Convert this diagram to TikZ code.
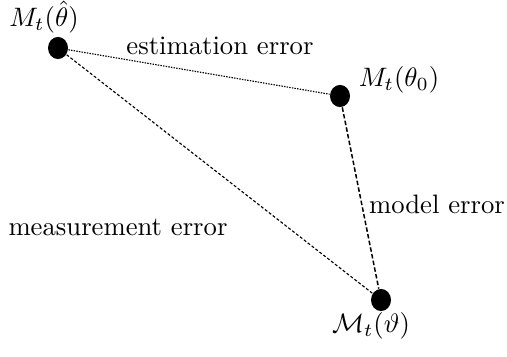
\documentclass[tikz,border=0pt]{standalone}
\usepackage{amsmath}
\usetikzlibrary{shapes.geometric}
\begin{document}
\begin{tikzpicture}[x=0.375pt,y=-0.375pt,
  dot/.style={ellipse,fill=black,minimum width=7.5pt,minimum height=8.3pt,inner sep=0pt},
  lbl/.style={inner sep=0pt},
  estline/.style={line width=0.42pt,dash pattern=on 0.55pt off 0.45pt},
  measline/.style={line width=0.42pt,dash pattern=on 1.1pt off 0.75pt},
  modline/.style={line width=0.56pt,dash pattern=on 1.7pt off 0.85pt}]
\useasboundingbox (0,0) rectangle (507,356);
\node[dot] (A) at (58,48) {};
\node[dot] (B) at (340,96) {};
\node[dot] (C) at (381,300) {};
\draw[estline] (A) -- (B);
\draw[measline] (A) -- (C);
\draw[modline] (B) -- (C);
\node[lbl] (la) at (44,17) {$M_t(\hat\theta)$};
\node[lbl] (lb) at (399,80) {$M_t(\theta_0)$};
\node[lbl] (lc) at (371,326) {$\mathcal{M}_t(\vartheta)$};
\node[lbl] (le) at (220,46) {estimation error};
\node[lbl] (lm) at (437,204) {model error};
\node[lbl] (ls) at (118,227) {measurement error};
\end{tikzpicture}
\end{document}
